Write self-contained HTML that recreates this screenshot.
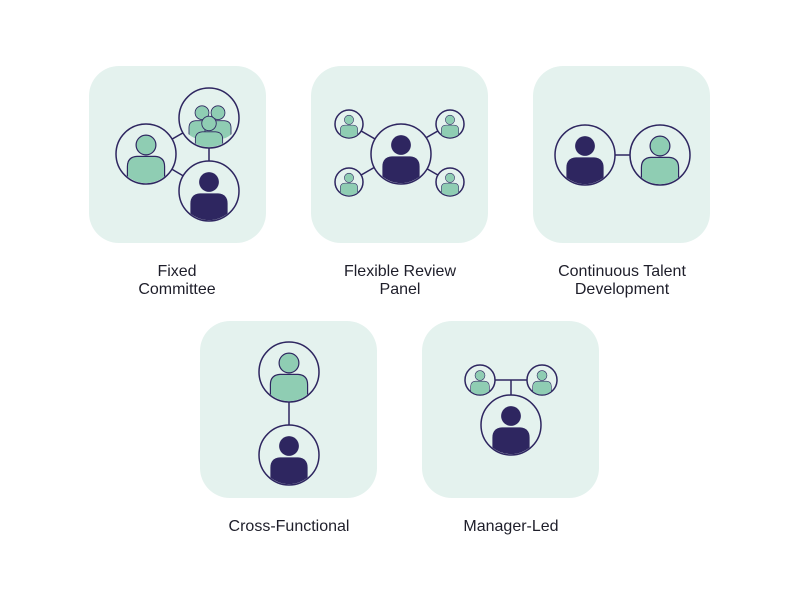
<!DOCTYPE html>
<html><head><style>
body{margin:0;background:#fff;}
svg{display:block;}
text{font-family:"Liberation Sans",sans-serif;font-size:16px;fill:#1e1e2a;text-anchor:middle;}
</style></head><body>
<svg width="800" height="600" viewBox="0 0 800 600">
<defs>
<symbol id="pg" viewBox="-1 -1 2 2" overflow="visible">
<clipPath id="cg"><circle cx="0" cy="0" r="0.97"/></clipPath>
<g clip-path="url(#cg)">
<path d="M-0.62 1.1 L-0.62 0.42 Q-0.62 0.1 -0.3 0.08 L0.3 0.08 Q0.62 0.1 0.62 0.42 L0.62 1.1 Z" fill="#8fcdb3" stroke="#2e2660" stroke-width="0.04"/>
</g>
<circle cx="0" cy="-0.3" r="0.33" fill="#8fcdb3" stroke="#2e2660" stroke-width="0.04"/>
</symbol>
<symbol id="pd" viewBox="-1 -1 2 2" overflow="visible">
<clipPath id="cd"><circle cx="0" cy="0" r="0.97"/></clipPath>
<g clip-path="url(#cd)">
<path d="M-0.62 1.1 L-0.62 0.42 Q-0.62 0.1 -0.3 0.08 L0.3 0.08 Q0.62 0.1 0.62 0.42 L0.62 1.1 Z" fill="#2e2660"/>
</g>
<circle cx="0" cy="-0.3" r="0.33" fill="#2e2660"/>
</symbol>
<clipPath id="c1"><circle cx="209" cy="118" r="29"/></clipPath>
</defs>
<g fill="#e4f2ee">
<rect x="89" y="66" width="177" height="177" rx="30"/>
<rect x="311" y="66" width="177" height="177" rx="30"/>
<rect x="533" y="66" width="177" height="177" rx="30"/>
<rect x="200" y="321" width="177" height="177" rx="30"/>
<rect x="422" y="321" width="177" height="177" rx="30"/>
</g>
<g stroke="#2e2660" stroke-width="1.5" fill="none">
<line x1="146" y1="154" x2="209" y2="118"/><line x1="146" y1="154" x2="209" y2="191"/><line x1="209" y1="118" x2="209" y2="191"/>
<line x1="349" y1="124" x2="450" y2="182"/><line x1="450" y1="124" x2="349" y2="182"/>
<line x1="585" y1="155" x2="660" y2="155"/>
<line x1="289" y1="372" x2="289" y2="455"/>
<line x1="480" y1="380" x2="542" y2="380"/><line x1="511" y1="380" x2="511" y2="425"/>
</g>
<g fill="#e4f2ee" stroke="#2e2660" stroke-width="1.5">
<circle cx="146" cy="154" r="30"/><circle cx="209" cy="118" r="30"/><circle cx="209" cy="191" r="30"/>
<circle cx="401" cy="154" r="30"/><circle cx="349" cy="124" r="14"/><circle cx="450" cy="124" r="14"/><circle cx="349" cy="182" r="14"/><circle cx="450" cy="182" r="14"/>
<circle cx="585" cy="155" r="30"/><circle cx="660" cy="155" r="30"/>
<circle cx="289" cy="372" r="30"/><circle cx="289" cy="455" r="30"/>
<circle cx="480" cy="380" r="15"/><circle cx="542" cy="380" r="15"/><circle cx="511" cy="425" r="30"/>
</g>
<use href="#pg" x="116" y="124" width="60" height="60"/>
<g clip-path="url(#c1)">
<use href="#pg" x="181" y="98" width="42" height="42"/>
<use href="#pg" x="197" y="98" width="42" height="42"/>
<use href="#pg" x="187" y="108" width="44" height="44"/>
</g>
<use href="#pd" x="179" y="161" width="60" height="60"/>
<use href="#pd" x="371" y="124" width="60" height="60"/>
<use href="#pg" x="335" y="110" width="28" height="28"/>
<use href="#pg" x="436" y="110" width="28" height="28"/>
<use href="#pg" x="335" y="168" width="28" height="28"/>
<use href="#pg" x="436" y="168" width="28" height="28"/>
<use href="#pd" x="555" y="125" width="60" height="60"/>
<use href="#pg" x="630" y="125" width="60" height="60"/>
<use href="#pg" x="259" y="342" width="60" height="60"/>
<use href="#pd" x="259" y="425" width="60" height="60"/>
<use href="#pg" x="465" y="365" width="30" height="30"/>
<use href="#pg" x="527" y="365" width="30" height="30"/>
<use href="#pd" x="481" y="395" width="60" height="60"/>
<text x="177" y="276">Fixed</text>
<text x="177" y="294">Committee</text>
<text x="400" y="276">Flexible Review</text>
<text x="400" y="294">Panel</text>
<text x="622" y="276">Continuous Talent</text>
<text x="622" y="294">Development</text>
<text x="289" y="531">Cross-Functional</text>
<text x="511" y="531">Manager-Led</text>
</svg>
</body></html>
